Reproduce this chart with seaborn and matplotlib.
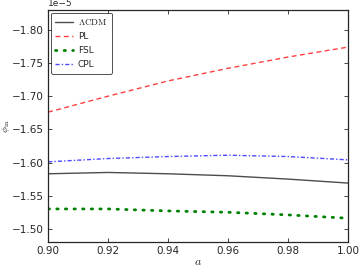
import matplotlib
matplotlib.use('Agg')
import matplotlib.pyplot as plt
import seaborn as sns

# scale factor samples
a_vals = [0.90, 0.92, 0.94, 0.96, 0.98, 1.00]

# phi_m dot for each model
lcdm = [-1.583e-5, -1.585e-5, -1.583e-5, -1.580e-5, -1.575e-5, -1.569e-5]
pl = [-1.676e-5, -1.700e-5, -1.723e-5, -1.742e-5, -1.759e-5, -1.774e-5]
fsl = [-1.530e-5, -1.530e-5, -1.527e-5, -1.525e-5, -1.521e-5, -1.516e-5]
cpl = [-1.601e-5, -1.606e-5, -1.609e-5, -1.611e-5, -1.609e-5, -1.604e-5]

sns.set_style("ticks")
plt.rcParams['font.family'] = ['DejaVu Sans']
plt.rcParams['mathtext.fontset'] = 'cm'
plt.rcParams['font.size'] = 7.5
plt.rcParams['xtick.direction'] = 'in'
plt.rcParams['ytick.direction'] = 'in'

fig = plt.figure(figsize=(3.62, 2.69), dpi=100)
ax = fig.add_axes([0.133, 0.100, 0.828, 0.863])

sns.lineplot(x=a_vals, y=lcdm, ax=ax, color='black', lw=1.0, alpha=0.7,
             label=r'$\Lambda{\rm CDM}$')
sns.lineplot(x=a_vals, y=pl, ax=ax, color='red', lw=1.0, alpha=0.75,
             linestyle=(0, (3.5, 2.5)), label='PL')
sns.lineplot(x=a_vals, y=fsl, ax=ax, color='green', lw=2.0,
             linestyle=(0, (0.5, 2.6)), dash_capstyle='round', label='FSL')
sns.lineplot(x=a_vals, y=cpl, ax=ax, color='blue', lw=1.0, alpha=0.7,
             linestyle=(0, (3, 1.5, 1, 1.5)), label='CPL')

ax.set_xlim(0.90, 1.00)
ax.set_ylim(-1.48e-5, -1.83e-5)
ax.set_xticks([0.90, 0.92, 0.94, 0.96, 0.98, 1.00])
ax.set_yticks([-1.80e-5, -1.75e-5, -1.70e-5, -1.65e-5, -1.60e-5, -1.55e-5, -1.50e-5])
ax.tick_params(top=True, right=True, labelsize=7.5, length=3, width=0.6, pad=3)
ax.yaxis.get_offset_text().set_fontsize(6.5)
for s in ax.spines.values():
    s.set_linewidth(0.9)

ax.set_xlabel(r'$a$', fontsize=8.5)
ax.xaxis.set_label_coords(0.5, -0.055)
ax.set_ylabel(r'$\dot{\phi}_{\rm m}$', fontsize=7)
ax.yaxis.set_label_coords(-0.117, 0.5)

leg = ax.legend(loc='upper left', fontsize=6.5, frameon=True, fancybox=True,
                handlelength=1.9, handletextpad=0.6, borderpad=0.5,
                labelspacing=0.55, borderaxespad=0.3)
leg.get_frame().set_edgecolor('black')
leg.get_frame().set_linewidth(0.6)

fig.savefig('out.png', dpi=100)
